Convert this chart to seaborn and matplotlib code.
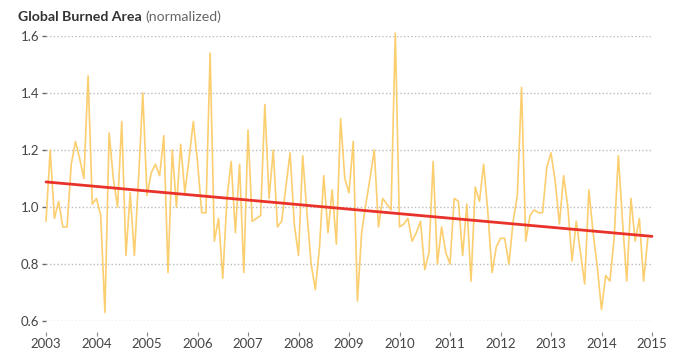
import numpy as np
import pandas as pd
import seaborn as sns
import matplotlib.pyplot as plt

# ---- data (monthly normalized global burned area) ----
start_year = 2003
burned_2003 = [0.95, 1.20, 0.96, 1.02, 0.93, 0.93, 1.15, 1.23, 1.17, 1.10, 1.46, 1.01]
burned_2004 = [1.03, 0.97, 0.63, 1.26, 1.10, 1.00, 1.30, 0.83, 1.05, 0.83, 1.10, 1.40]
burned_2005 = [1.04, 1.12, 1.15, 1.11, 1.25, 0.77, 1.20, 1.00, 1.22, 1.05, 1.17, 1.30]
burned_2006 = [1.16, 0.98, 0.98, 1.54, 0.88, 0.96, 0.75, 1.03, 1.16, 0.91, 1.15, 0.77]
burned_2007 = [1.27, 0.95, 0.96, 0.97, 1.36, 1.03, 1.20, 0.93, 0.95, 1.07, 1.19, 0.94]
burned_2008 = [0.83, 1.18, 0.98, 0.80, 0.71, 0.86, 1.11, 0.91, 1.06, 0.87, 1.31, 1.10]
burned_2009 = [1.05, 1.23, 0.67, 0.91, 1.01, 1.10, 1.20, 0.93, 1.03, 1.01, 0.99, 1.61]
burned_2010 = [0.93, 0.94, 0.96, 0.88, 0.91, 0.95, 0.78, 0.84, 1.16, 0.80, 0.93, 0.84]
burned_2011 = [0.80, 1.03, 1.02, 0.83, 1.01, 0.74, 1.07, 1.02, 1.15, 0.98, 0.77, 0.86]
burned_2012 = [0.89, 0.89, 0.80, 0.95, 1.04, 1.42, 0.88, 0.97, 0.99, 0.98, 0.98, 1.14]
burned_2013 = [1.19, 1.09, 0.94, 1.11, 1.00, 0.81, 0.95, 0.84, 0.73, 1.06, 0.91, 0.79]
burned_2014 = [0.64, 0.76, 0.74, 0.89, 1.18, 0.95, 0.74, 1.03, 0.88, 0.96, 0.74, 0.89]

trend_years = [2003, 2015]
trend_values = [1.088, 0.897]

year_ticks = list(range(2003, 2016))
y_ticks = [0.6, 0.8, 1.0, 1.2, 1.4, 1.6]
y_tick_labels = ["0.6", "0.8", "1.0", "1.2", "1.4", "1.6"]

title_bold = "Global Burned Area"
title_light = "(normalized)"

# ---- build table ----
values = (burned_2003 + burned_2004 + burned_2005 + burned_2006 + burned_2007 + burned_2008
          + burned_2009 + burned_2010 + burned_2011 + burned_2012 + burned_2013 + burned_2014)
months = np.arange(len(values))
df = pd.DataFrame({"time": start_year + months / 12.0, "area": values})
trend_df = pd.DataFrame({"time": trend_years, "area": trend_values})

# ---- plot ----
sns.set_theme(style="white")
plt.rcParams["font.family"] = ["Lato", "DejaVu Sans"]

W, H = 685, 354
fig = plt.figure(figsize=(W / 100, H / 100), dpi=100)
ax = fig.add_axes([46 / W, 1 - 321 / H, (652 - 46) / W, (321 - 36) / H])

sns.lineplot(data=df, x="time", y="area", ax=ax, color="#FBC960", linewidth=1.2, alpha=0.9)
sns.lineplot(data=trend_df, x="time", y="area", ax=ax, color="#E8322A", linewidth=2.0)
for ln in ax.lines:
    ln.set_clip_on(False)

ax.set_xlim(2003, 2015)
ax.set_ylim(0.6, 1.6)
ax.set_xlabel("")
ax.set_ylabel("")

ax.set_yticks(y_ticks)
ax.set_yticklabels(y_tick_labels)
ax.set_xticks(year_ticks)
ax.set_xticklabels([str(y) for y in year_ticks])

for s in ["top", "right", "left"]:
    ax.spines[s].set_visible(False)
ax.spines["bottom"].set_visible(False)
ax.spines["bottom"].set_position(("outward", 8))

ax.yaxis.grid(True, color="#BBBBBB", linestyle=(0, (1, 1.6)), linewidth=1.0)
ax.xaxis.grid(False)
ax.set_axisbelow(True)

ax.tick_params(axis="y", left=True, length=3, width=1, color="#666666", pad=2,
               labelsize=9.5, labelcolor="#444444", direction="out")
ax.tick_params(axis="x", bottom=True, length=3, width=0.8, color="#888888", pad=1,
               labelsize=9.5, labelcolor="#444444", direction="out")

# ---- title ----
t1 = fig.text(18 / W, 1 - 21 / H, title_bold, fontsize=10.2, fontweight="bold",
              color="#333333", ha="left", va="baseline")
fig.canvas.draw()
bb = t1.get_window_extent(renderer=fig.canvas.get_renderer())
fig.text((bb.x1 + 4) / W, 1 - 21 / H, title_light, fontsize=10.2,
         color="#666666", ha="left", va="baseline")

fig.savefig("out.png", dpi=100, facecolor="white")
